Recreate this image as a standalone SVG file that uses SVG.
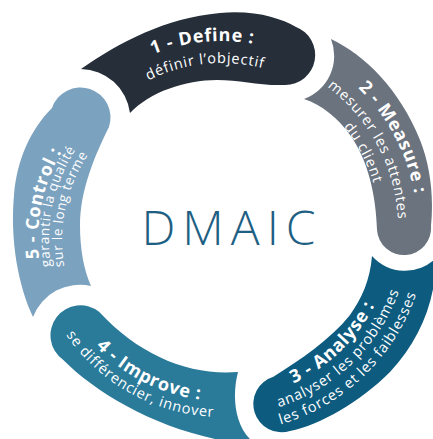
<svg xmlns="http://www.w3.org/2000/svg" width="433" height="439" viewBox="0 0 433 439">
<style>
.t{font-family:"Open Sans","DejaVu Sans",sans-serif;font-weight:700;font-size:18px;fill:#fff;letter-spacing:0.7px}
.s{font-family:"Open Sans","DejaVu Sans",sans-serif;font-weight:400;font-size:14.5px;fill:#fff;letter-spacing:0.8px}
.c{font-size:13.5px;letter-spacing:0.6px}
.title{font-family:"Open Sans","DejaVu Sans",sans-serif;font-weight:300;font-size:48px;fill:#1e6083;letter-spacing:7px}
</style>
<defs>
<path id="pD1" d="M40.6,182.8 A187,187 0 0 1 390.1,146.0"/>
<path id="pD2" d="M61.9,188.1 A165,165 0 0 1 370.3,155.7"/>
<path id="pM1" d="M194.9,34.9 A195,195 0 0 1 366.9,358.9"/>
<path id="pM2" d="M197.5,53.7 A176,176 0 0 1 352.8,345.8"/>
<path id="pM3" d="M200.0,71.5 A158,158 0 0 1 339.4,333.7"/>
<path id="pA1" d="M147.0,381.7 A171,171 0 0 0 378.2,158.5"/>
<path id="pA2" d="M139.6,397.0 A188,188 0 0 0 393.7,151.5"/>
<path id="pA3" d="M132.1,412.3 A205,205 0 0 0 409.3,144.6"/>
<path id="pI1" d="M50.3,206.9 A173,173 0 0 0 340.0,354.5"/>
<path id="pI2" d="M35.3,198.4 A189,189 0 0 0 346.0,370.6"/>
<path id="pC1" d="M121.2,390.1 A177,177 0 0 1 190.4,64.7"/>
<path id="pC2" d="M127.0,380.8 A166,166 0 0 1 191.9,75.6"/>
<path id="pC3" d="M133.9,369.7 A153,153 0 0 1 193.7,88.5"/>
</defs>

<g id="define">
<path fill="#252e39" d="M81,69 C120,42 165,18 220,13 C255,10 280,18 296,27 A30,30 0 0 1 285,85 C260,86 240,80 217,80 C185,80 150,92 130,113 A50,50 0 0 0 81,69 Z"/>
<text class="t"><textPath href="#pD1" startOffset="50%" text-anchor="middle">1 - Define :</textPath></text>
<text class="s"><textPath href="#pD2" startOffset="50%" text-anchor="middle">définir l’objectif</textPath></text>
</g>

<g id="measure">
<path fill="#6b737e" d="M331,39 C365,55 400,90 420,140 C430,165 434,195 431,226 A27,27 0 0 1 377,230 C376,195 368,160 350,135 C338,118 322,105 304,99 A46,46 0 0 0 331,39 Z"/>
<text class="t"><textPath href="#pM1" startOffset="50%" text-anchor="middle">2 - Measure :</textPath></text>
<text class="s"><textPath href="#pM2" startOffset="50%" text-anchor="middle">mesurer les attentes</textPath></text>
<text class="s"><textPath href="#pM3" startOffset="50%" text-anchor="middle">du client</textPath></text>
</g>

<g id="analyse">
<path fill="#0d5b7f" d="M372,256 A44,44 0 0 0 436,258 C436,300 420,340 390,372 C360,402 320,425 290,431 A28,28 0 0 1 273.4,376.7 C300,360 330,340 350,315 C362,298 370,280 372,256 Z"/>
<text class="t"><textPath href="#pA1" startOffset="50%" text-anchor="middle">3 - Analyse :</textPath></text>
<text class="s"><textPath href="#pA2" startOffset="50%" text-anchor="middle">analyser les problèmes</textPath></text>
<text class="s"><textPath href="#pA3" startOffset="50%" text-anchor="middle">les forces et les faiblesses</textPath></text>
</g>

<g id="improve">
<path fill="#2a7a9a" d="M252,441 C234,425 232,395 238,372 C190,376 140,356 99.3,312 A30,30 0 1 0 62.8,359.6 C95,392 150,425 215,439 L252,441 Z"/>
<text class="t"><textPath href="#pI1" startOffset="50%" text-anchor="middle">4 - Improve :</textPath></text>
<text class="s"><textPath href="#pI2" startOffset="50%" text-anchor="middle">se différencier, innover</textPath></text>
</g>

<g id="control">
<path fill="#7ba2bf" d="M33,317 C18,285 10,240 14,195 C17,160 30,130 52,108 A30,30 0 0 1 109,127 C95,155 80,190 80,225 C80,250 84,270 91,286 A50,50 0 0 0 33,317 Z"/>
<text class="t"><textPath href="#pC1" startOffset="50%" text-anchor="middle">5 - Control :</textPath></text>
<text class="s c"><textPath href="#pC2" startOffset="50%" text-anchor="middle">garantir la qualité</textPath></text>
<text class="s c"><textPath href="#pC3" startOffset="50%" text-anchor="middle">sur le long terme</textPath></text>
</g>

<g id="center">
<text class="title" x="232" y="245" text-anchor="middle">DMAIC</text>
</g>
<g id="connectors"/>
</svg>
